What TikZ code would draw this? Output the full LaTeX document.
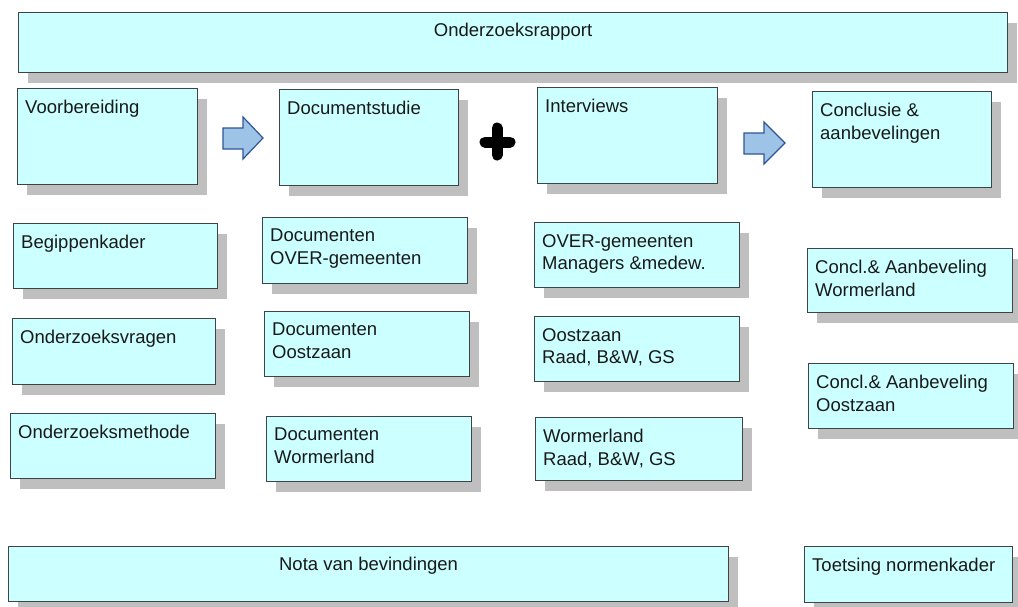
\documentclass[tikz,border=0pt]{standalone}
\usepackage{fontspec}
\setmainfont{Liberation Sans}
\usetikzlibrary{calc}
\definecolor{boxfill}{HTML}{CCFFFF}
\definecolor{boxline}{HTML}{3C4446}
\definecolor{shadec}{HTML}{BFBFBF}
\definecolor{arrfill}{HTML}{9DC3E6}
\definecolor{arrline}{HTML}{2F5597}
\tikzset{
  box/.style={draw=boxline, fill=boxfill, line width=1.2pt, inner sep=0pt, anchor=north west},
  lbl/.style={inner sep=0pt, align=left, font=\fontsize{18.5}{22.5}\selectfont, text=black!90},
  blockarrow/.style={draw=arrline, fill=arrfill, line width=1.2pt, line join=miter},
  plusbar/.style={line width=11pt, line cap=round, black}
}
% name, x, y, w, h
\newcommand\mkbox[5]{%
  \fill[shadec] (#2+10,#3+11) rectangle ++(#4,#5);
  \node[box, minimum width=#4pt, minimum height=#5pt] (#1) at (#2,#3) {};
}
% box with top-left text
\newcommand\bxl[6]{%
  \mkbox{#1}{#2}{#3}{#4}{#5}
  \node[lbl, anchor=north west] (#1t) at ($(#1.north west)+(8,12)$) {#6};
}
% box with top-centred text
\newcommand\bxc[6]{%
  \mkbox{#1}{#2}{#3}{#4}{#5}
  \node[lbl, anchor=north] (#1t) at ($(#1.north)+(0,11)$) {#6};
}
\begin{document}
\begin{tikzpicture}[x=1pt, y=-1pt]
\useasboundingbox (0,0) rectangle (1018,606);
\fill[white] (0,0) rectangle (1018,606);

\bxc{top}{18}{12}{989}{60}{Onderzoeksrapport}

\bxl{voor}{17}{88}{180}{96}{Voorbereiding}
\bxl{doc}{279}{89}{179}{96}{Documentstudie}
\bxl{int}{537}{87}{180}{96}{Interviews}
\bxl{conc}{812}{91}{179}{96}{Conclusie \&\\aanbevelingen}

\bxl{beg}{13}{223}{204}{65}{Begippenkader}
\bxl{vra}{12}{318}{203}{66}{Onderzoeksvragen}
\bxl{met}{10}{413}{205}{65}{Onderzoeksmethode}

\bxl{dov}{262}{217}{205}{66}{Documenten\\OVER-gemeenten}
\bxl{doo}{264}{311}{205}{65}{Documenten\\Oostzaan}
\bxl{dow}{266}{416}{205}{65}{Documenten\\Wormerland}

\bxl{iov}{534}{222}{205}{65}{OVER-gemeenten\\Managers \&medew.}
\bxl{ioo}{534}{316}{205}{65}{Oostzaan\\Raad, B\&W, GS}
\bxl{iow}{535}{417}{207}{63}{Wormerland\\Raad, B\&W, GS}

\bxl{cw}{807}{248}{205}{64}{Concl.\& Aanbeveling\\Wormerland}
\bxl{co}{808}{363}{205}{65}{Concl.\& Aanbeveling\\Oostzaan}

\bxc{nota}{8}{546}{720}{55}{Nota van bevindingen}
\bxl{toets}{804}{546}{208}{56}{Toetsing normenkader}

% block arrows
\draw[blockarrow] (223,128) -- (243,128) -- (243,117) -- (263,138) -- (243,159) -- (243,149) -- (223,149) -- cycle;
\draw[blockarrow] (744,133) -- (764,133) -- (764,122) -- (785,143) -- (764,164) -- (764,154) -- (744,154) -- cycle;

% plus sign
\draw[plusbar] (485,142) -- (510,142);
\draw[plusbar] (497,128) -- (497,155);
\end{tikzpicture}
\end{document}
